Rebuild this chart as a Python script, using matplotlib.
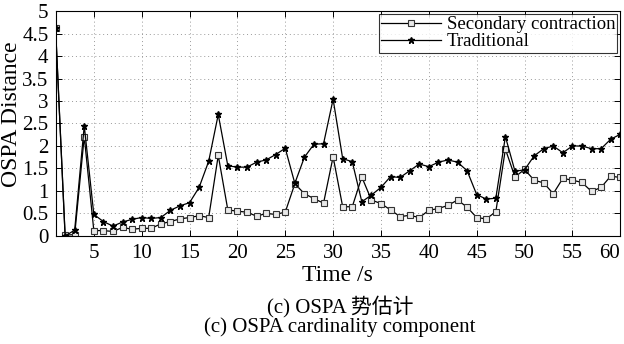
import numpy as np
import matplotlib
matplotlib.use('Agg')
import matplotlib.pyplot as plt

plt.rcParams['font.family'] = ['Liberation Serif', 'Noto Sans CJK SC']

# time axis, 1..60 s
t = list(range(1, 61))

# secondary contraction (square markers)
secondary = [4.63, 0.02, 0.03, 2.21, 0.12, 0.12, 0.10, 0.19, 0.15, 0.17,
             0.17, 0.27, 0.32, 0.38, 0.41, 0.45, 0.41, 1.79, 0.58, 0.55,
             0.53, 0.44, 0.50, 0.48, 0.53, 1.16, 0.94, 0.83, 0.73, 1.76,
             0.65, 0.65, 1.31, 0.80, 0.72, 0.58, 0.43, 0.46, 0.41, 0.57,
             0.61, 0.68, 0.80, 0.64, 0.41, 0.38, 0.54, 1.93, 1.31, 1.48,
             1.24, 1.18, 0.94, 1.28, 1.24, 1.19, 0.99, 1.08, 1.33, 1.30]

# traditional (star markers)
traditional = [4.63, 0.00, 0.13, 2.45, 0.48, 0.32, 0.22, 0.31, 0.37, 0.41,
               0.39, 0.41, 0.57, 0.67, 0.74, 1.08, 1.66, 2.70, 1.56, 1.53,
               1.53, 1.64, 1.69, 1.81, 1.95, 1.17, 1.75, 2.04, 2.05, 3.04,
               1.72, 1.65, 0.76, 0.91, 1.08, 1.32, 1.30, 1.45, 1.60, 1.54,
               1.64, 1.69, 1.64, 1.45, 0.92, 0.82, 0.84, 2.21, 1.44, 1.47,
               1.78, 1.94, 2.00, 1.85, 2.00, 2.00, 1.94, 1.94, 2.15, 2.26]

xticks = [5, 10, 15, 20, 25, 30, 35, 40, 45, 50, 55, 60]
yticks = [0, 0.5, 1, 1.5, 2, 2.5, 3, 3.5, 4, 4.5, 5]
ytick_labels = ['0', '0.5', '1', '1.5', '2', '2.5', '3', '3.5', '4', '4.5', '5']

fig = plt.figure(figsize=(6.24, 3.44), dpi=100)
ax = fig.add_axes([0.089, 0.314, 0.905, 0.654])

ax.plot(t, secondary, 'k-', lw=0.9, marker='s', ms=4.8, mfc='#e8e8e8',
        mec='#333333', mew=0.8, label='Secondary contraction')
ax.plot(t, traditional, 'k-', lw=0.9, marker='*', ms=5, mfc='k',
        mec='k', label='Traditional')

ax.set_xlim(1, 60)
ax.set_ylim(0, 5)
ax.set_xticks(xticks)
ax.set_yticks(yticks)
ax.set_yticklabels(ytick_labels)
ax.tick_params(direction='in', top=True, right=True, labelsize=15,
               length=4, width=0.7)
ax.tick_params(axis='x', pad=6)
ax.tick_params(axis='y', pad=5)
ax.get_xticklabels()[-1].set_ha('right')
ax.grid(True, linestyle=(0, (1, 3)), color='#999999', lw=0.7)
for s in ax.spines.values():
    s.set_linewidth(0.8)

ax.set_ylabel('OSPA Distance', fontsize=17)
ax.yaxis.set_label_coords(-0.059, 0.54)
ax.set_xlabel('Time /s', fontsize=17, labelpad=1)

leg = ax.legend(loc='upper right', fontsize=13.5, frameon=True, fancybox=False,
                edgecolor='k', borderpad=0.12, labelspacing=0.0,
                handlelength=3.2, borderaxespad=0.15, handletextpad=0.3)
leg.get_frame().set_linewidth(0.8)

fig.text(0.545, 0.105, '(c) OSPA 势估计', ha='center', va='center', fontsize=15)
fig.text(0.545, 0.048, '(c) OSPA cardinality component', ha='center',
         va='center', fontsize=15)

fig.savefig('out.png', dpi=100)
